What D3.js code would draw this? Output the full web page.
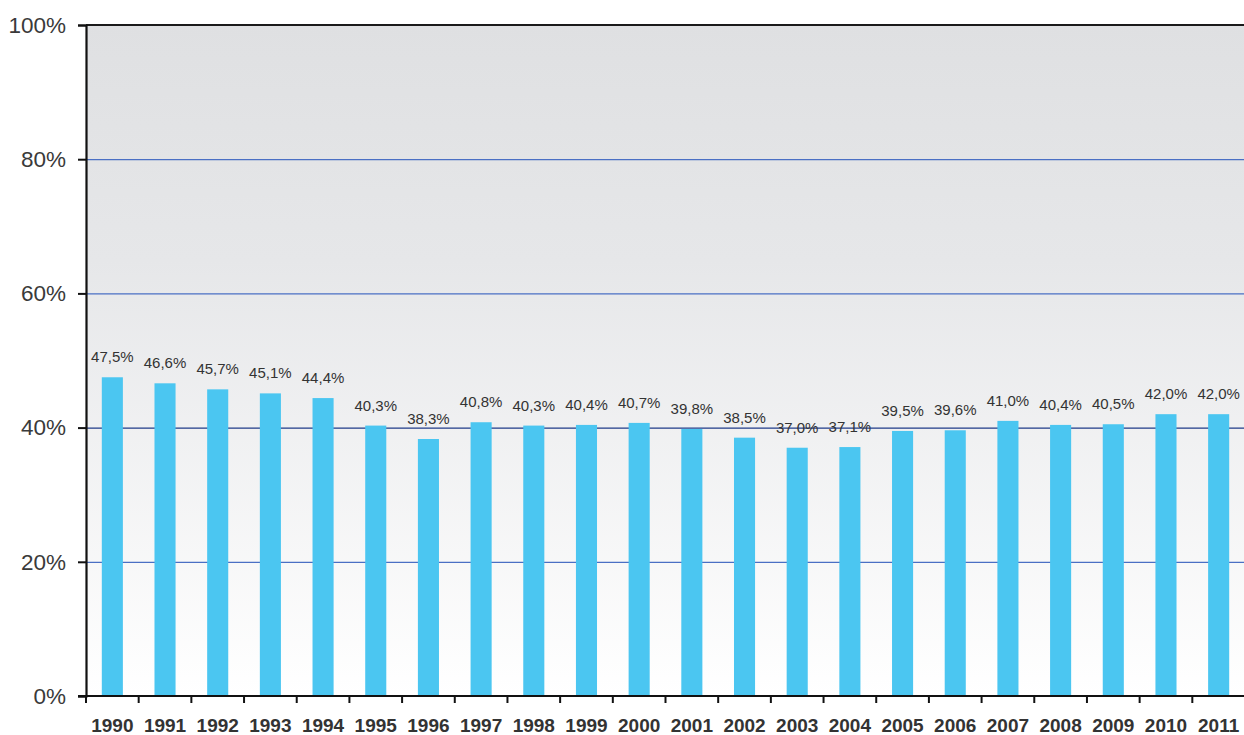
<!DOCTYPE html>
<html>
<head>
<meta charset="utf-8">
<script src="https://cdn.jsdelivr.net/npm/d3@7"></script>
<style>
  body { margin: 0; background: #fff; }
  svg { display: block; font-family: "Liberation Sans", Arial, Helvetica, sans-serif; }
</style>
</head>
<body>
<svg id="chart" width="1244" height="735"></svg>
<script>
var years = ['1990','1991','1992','1993','1994','1995','1996','1997','1998','1999','2000',
             '2001','2002','2003','2004','2005','2006','2007','2008','2009','2010','2011']
var shares = [47.5, 46.6, 45.7, 45.1, 44.4, 40.3, 38.3, 40.8, 40.3, 40.4, 40.7,
              39.8, 38.5, 37.0, 37.1, 39.5, 39.6, 41.0, 40.4, 40.5, 42.0, 42.0]
var yTicks = [0, 20, 40, 60, 80, 100]

var BAR_COLOR = '#4bc6f1',
    TEXT_COLOR = '#333',
    GRID_COLOR = '#4a6fc4',
    GRID_DARK = '#1f3a88'

var LEFT = 86, RIGHT = 1245, TOP = 25, BOTTOM = 696

var svg = d3.select('#chart')

var x = d3.scaleBand().domain(years).range([LEFT, RIGHT]).paddingInner(0.6).paddingOuter(0.3)
var xTick = d3.scaleBand().domain(years).range([LEFT, RIGHT])
var y = d3.scaleLinear().domain([0, 100]).range([BOTTOM, TOP])

// background gradient
var grad = svg.append('defs').append('linearGradient')
    .attr('id', 'bg').attr('x1', 0).attr('x2', 0).attr('y1', 0).attr('y2', 1)
grad.append('stop').attr('offset', '0%').attr('stop-color', '#dfe0e2')
grad.append('stop').attr('offset', '35%').attr('stop-color', '#e6e7e9')
grad.append('stop').attr('offset', '100%').attr('stop-color', '#ffffff')

svg.append('rect')
    .attr('x', LEFT).attr('y', TOP)
    .attr('width', RIGHT - LEFT).attr('height', BOTTOM - TOP)
    .attr('fill', 'url(#bg)')

// gridlines
svg.append('g').selectAll('line')
    .data(yTicks.filter(function(d){ return d > 0 && d < 100 }))
    .enter().append('line')
    .attr('x1', LEFT).attr('x2', RIGHT)
    .attr('y1', function(d){ return y(d) + 0.5 })
    .attr('y2', function(d){ return y(d) + 0.5 })
    .style('stroke', function(d){ return d == 40 ? GRID_DARK : GRID_COLOR })
    .style('stroke-width', 1.3)

// top border
svg.append('line')
    .attr('x1', LEFT).attr('x2', RIGHT)
    .attr('y1', TOP).attr('y2', TOP)
    .style('stroke', '#1a1a1a').style('stroke-width', 2)

// bars
svg.append('g').selectAll('rect')
    .data(shares)
    .enter().append('rect')
    .attr('x', function(d, i){ return x(years[i]) })
    .attr('width', x.bandwidth())
    .attr('y', function(d){ return y(d) })
    .attr('height', function(d){ return BOTTOM - y(d) })
    .attr('fill', BAR_COLOR)

// value labels
svg.append('g').selectAll('text')
    .data(shares)
    .enter().append('text')
    .attr('x', function(d, i){ return x(years[i]) + x.bandwidth() / 2 })
    .attr('y', function(d){ return y(d) - 15 })
    .attr('text-anchor', 'middle')
    .attr('font-size', 15)
    .attr('fill', TEXT_COLOR)
    .text(function(d){ return d.toFixed(1).replace('.', ',') + '%' })

// y axis
var yAxis = svg.append('g')
    .attr('transform', 'translate(' + LEFT + ',0)')
    .call(d3.axisLeft(y).tickValues(yTicks).tickSize(8).tickPadding(12)
        .tickFormat(function(d){ return d + '%' }))
yAxis.select('.domain').attr('stroke', '#111').attr('stroke-width', 2.2)
yAxis.selectAll('.tick line').attr('stroke', '#111').attr('stroke-width', 2)
yAxis.selectAll('text').attr('font-size', 22.5).attr('fill', '#3a3a3a')
    .attr('font-family', '"Liberation Sans", Arial, sans-serif')

// x axis
var xAxis = svg.append('g')
    .attr('transform', 'translate(0,' + BOTTOM + ')')
xAxis.append('line')
    .attr('x1', LEFT - 8).attr('x2', RIGHT)
    .attr('stroke', '#111').attr('stroke-width', 2)
xAxis.selectAll('line.tk')
    .data(years)
    .enter().append('line')
    .attr('class', 'tk')
    .attr('x1', function(d){ return xTick(d) + xTick.bandwidth() })
    .attr('x2', function(d){ return xTick(d) + xTick.bandwidth() })
    .attr('y1', 0).attr('y2', 7)
    .attr('stroke', '#111').attr('stroke-width', 2)
xAxis.append('line')
    .attr('x1', LEFT).attr('x2', LEFT).attr('y1', 0).attr('y2', 7)
    .attr('stroke', '#111').attr('stroke-width', 2)
xAxis.selectAll('text')
    .data(years)
    .enter().append('text')
    .attr('x', function(d){ return xTick(d) + xTick.bandwidth() / 2 })
    .attr('y', 36)
    .attr('text-anchor', 'middle')
    .attr('font-size', 19)
    .attr('font-weight', 'bold')
    .attr('fill', TEXT_COLOR)
    .text(function(d){ return d })
</script>
</body>
</html>
